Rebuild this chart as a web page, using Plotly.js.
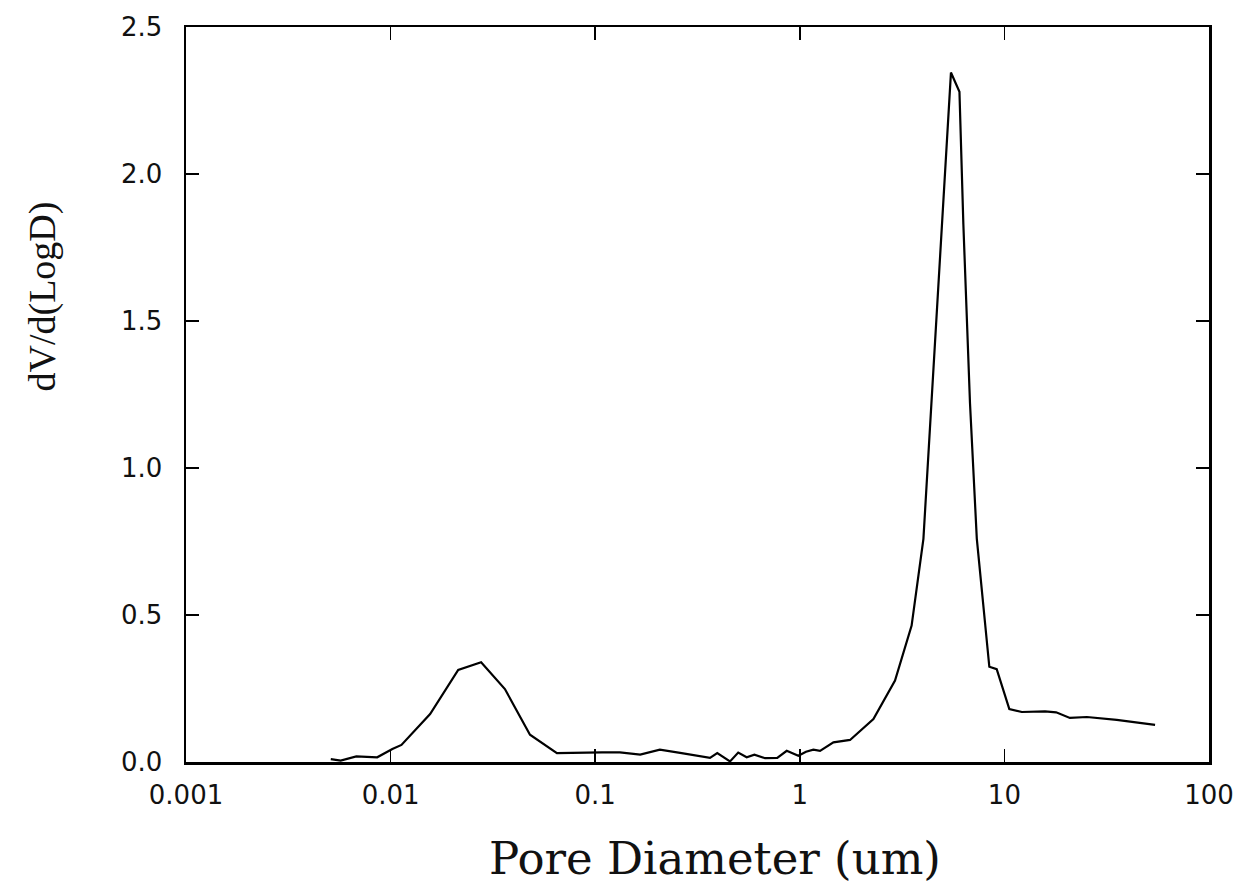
<!DOCTYPE html>
<html>
<head>
<meta charset="utf-8">
<script src="https://cdn.plot.ly/plotly-3.0.1.min.js"></script>
<style>
  html, body { margin: 0; padding: 0; background: #ffffff; }
  #chart { width: 1251px; height: 895px; }
</style>
</head>
<body>
<div id="chart"></div>
<script>
// Pore diameter (um)
const poreDiameter = [0.0051, 0.0057, 0.0068, 0.0086, 0.0102, 0.0113, 0.0156, 0.0214, 0.0277, 0.0362,
  0.048, 0.065, 0.108, 0.132, 0.166, 0.207, 0.26, 0.29, 0.364, 0.395,
  0.456, 0.50, 0.55, 0.60, 0.676, 0.776, 0.863, 0.984, 1.072, 1.165,
  1.256, 1.46, 1.76, 2.29, 2.92, 3.52, 4.02, 5.48, 6.03, 6.3,
  6.79, 7.33, 8.44, 9.17, 10.57, 12.16, 15.8, 17.9, 20.9, 25.3,
  35.4, 54.5];
// dV/d(LogD)
const dVdLogD = [0.01, 0.005, 0.019, 0.016, 0.044, 0.058, 0.163, 0.313, 0.339, 0.248,
  0.093, 0.03, 0.033, 0.033, 0.025, 0.042, 0.031, 0.025, 0.014, 0.03,
  0.002, 0.032, 0.016, 0.025, 0.013, 0.014, 0.038, 0.021, 0.035, 0.042,
  0.038, 0.067, 0.075, 0.146, 0.277, 0.464, 0.759, 2.345, 2.28, 1.83,
  1.22, 0.76, 0.324, 0.316, 0.18, 0.17, 0.172, 0.169, 0.15, 0.153,
  0.143, 0.126];

const xTickVals = [0.001, 0.01, 0.1, 1, 10, 100];
const xTickText = ["0.001", "0.01", "0.1", "1", "10", "100"];
const yTickVals = [0, 0.5, 1.0, 1.5, 2.0, 2.5];
const yTickText = ["0.0", "0.5", "1.0", "1.5", "2.0", "2.5"];

const xTitle = "Pore Diameter (um)";
const yTitle = "dV/d(LogD)";

const trace = {
  x: poreDiameter,
  y: dVdLogD,
  type: "scatter",
  mode: "lines",
  line: { color: "#000000", width: 2.2 },
  hoverinfo: "x+y",
  showlegend: false
};

const tickFont = { family: "DejaVu Sans, Arial, sans-serif", size: 26, color: "#111111" };

const layout = {
  width: 1251,
  height: 895,
  paper_bgcolor: "#ffffff",
  plot_bgcolor: "#ffffff",
  margin: { l: 186, r: 42, t: 27, b: 133 },
  showlegend: false,
  xaxis: {
    type: "log",
    range: [-3, 2],
    tickvals: xTickVals,
    ticktext: xTickText,
    ticks: "inside",
    ticklen: 13,
    tickwidth: 1.5,
    tickcolor: "#000000",
    showline: true,
    linecolor: "#000000",
    linewidth: 2.5,
    mirror: "ticks",
    showgrid: false,
    zeroline: false,
    tickfont: tickFont,
    ticklabelstandoff: 8
  },
  yaxis: {
    range: [0, 2.5],
    tickvals: yTickVals,
    ticktext: yTickText,
    ticks: "inside",
    ticklen: 13,
    tickwidth: 1.5,
    tickcolor: "#000000",
    showline: true,
    linecolor: "#000000",
    linewidth: 2.5,
    mirror: "ticks",
    showgrid: false,
    zeroline: false,
    tickfont: tickFont,
    ticklabelstandoff: 16
  },
  annotations: [
    {
      text: xTitle,
      xref: "paper", yref: "paper",
      x: 0.517, y: -0.131,
      xanchor: "center", yanchor: "middle",
      showarrow: false,
      font: { family: "DejaVu Serif, Liberation Serif, serif", size: 45, color: "#111111" }
    },
    {
      text: yTitle,
      xref: "paper", yref: "paper",
      x: -0.14, y: 0.633,
      xanchor: "center", yanchor: "middle",
      textangle: -90,
      showarrow: false,
      font: { family: "Liberation Serif, Times New Roman, serif", size: 38, color: "#111111" }
    }
  ]
};

Plotly.newPlot("chart", [trace], layout, { staticPlot: true, displayModeBar: false });
</script>
</body>
</html>
